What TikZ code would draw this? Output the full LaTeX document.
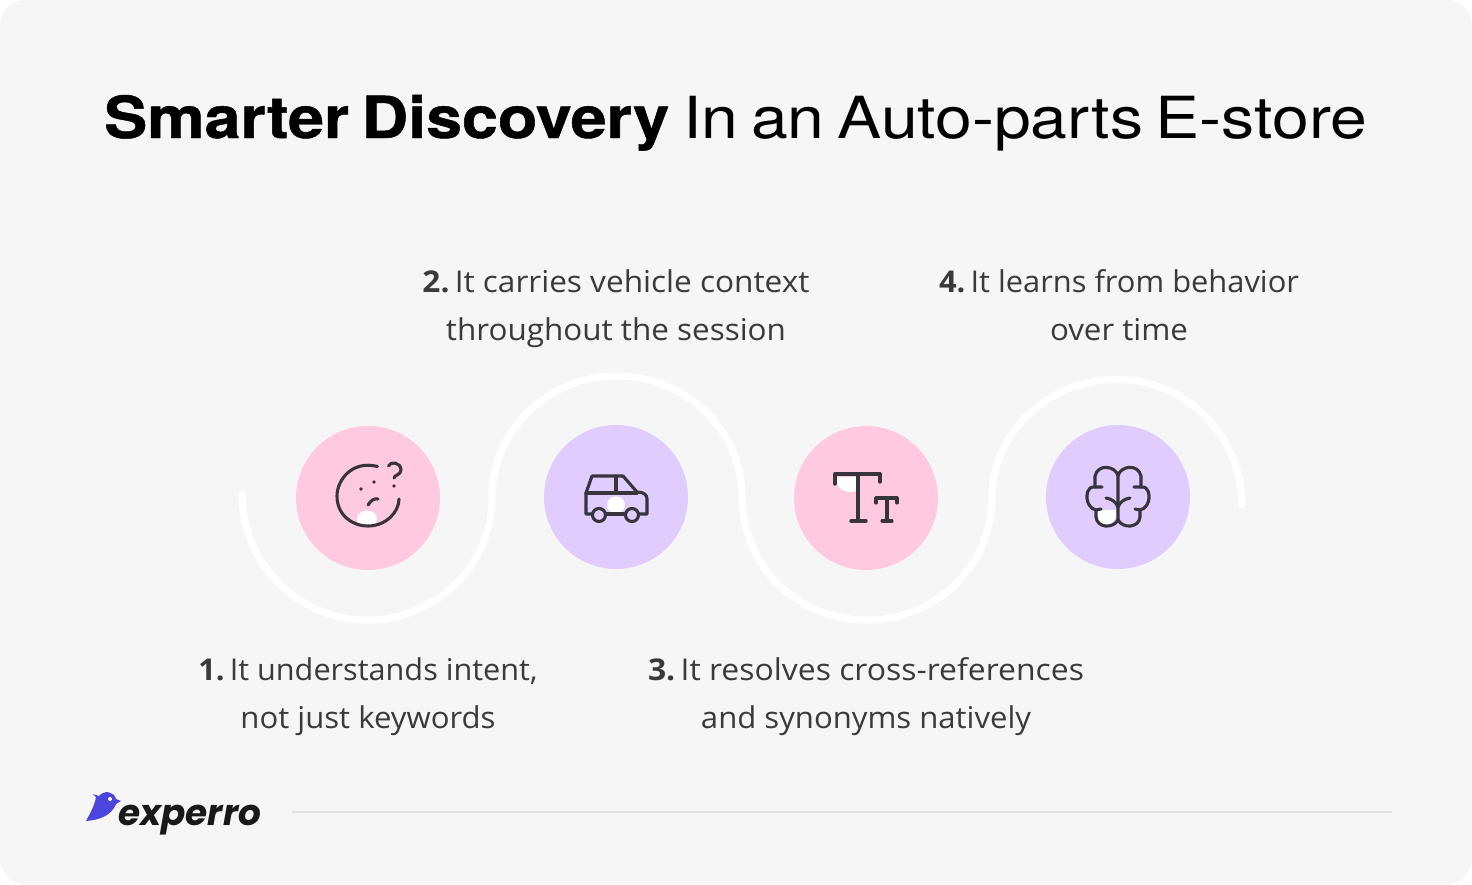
\documentclass[tikz,border=0pt]{standalone}
\usepackage{fontspec}
\setmainfont{TeX Gyre Heros}
\newfontfamily\heavyfont[WordSpace=0.7,BoldFeatures={FakeBold=0.8,WordSpace=0.7}]{TeX Gyre Heros}
\newfontfamily\bodyfont{Open Sans}
\newfontfamily\logofont{Poppins}
\definecolor{bgc}{HTML}{F6F6F6}
\definecolor{pinkc}{HTML}{FFC9E0}
\definecolor{lilac}{HTML}{E0CCFF}
\definecolor{inkc}{HTML}{37343B}
\definecolor{textc}{HTML}{3A3A3A}
\definecolor{birdc}{HTML}{4B45DE}
\newcommand{\fitw}[2]{\resizebox{#1pt}{\height}{#2}}
\newcommand{\numb}[1]{\textbf{#1}\hspace{5pt}}
\tikzset{
  x=1pt,y=-1pt,
  disc/.style={circle,minimum size=144pt,inner sep=0pt},
  wave/.style={draw=white,line width=7pt,line cap=round},
  ico/.style={draw=inkc,line width=3.1pt,line cap=round,line join=round},
  caption/.style={font=\bodyfont\fontsize{30}{48}\selectfont,text=textc,align=center,inner sep=0pt,anchor=center},
}
\begin{document}
\begin{tikzpicture}
\useasboundingbox (0,0) rectangle (1472,884);
\fill[white] (0,0) rectangle (1472,884);
\fill[bgc,rounded corners=26pt] (0,0) rectangle (1472,884);
\node[inner sep=0pt,text=black,anchor=base west] (title) at (104,138) {\heavyfont\fontsize{58}{60}\selectfont\fitw{565}{\textbf{Smarter Discovery}}\hspace{14pt}\fitw{684}{In an Auto-parts E-store}};
\coordinate (w0) at (242,494);
\coordinate (w1) at (492,497);
\coordinate (w2) at (742,497);
\coordinate (w3) at (992,497);
\coordinate (w4) at (1242,505);
\draw[wave] (w0) .. controls (242,563) and (298,620) .. (367,620) .. controls (436,620) and (492,566) .. (492,497)
  .. controls (492,430) and (548,376) .. (617,376) .. controls (686,376) and (742,430) .. (742,497)
  .. controls (742,566) and (798,620) .. (867,620) .. controls (936,620) and (992,566) .. (992,497)
  .. controls (992,433) and (1048,379.5) .. (1117,379.5) .. controls (1186,379.5) and (1242,436) .. (w4);
\node[disc,fill=pinkc] (d1) at (368,498) {};
\node[disc,fill=lilac] (d2) at (616,497) {};
\node[disc,fill=pinkc] (d3) at (866,498) {};
\node[disc,fill=lilac] (d4) at (1118,497) {};
% face
\fill[white] (367,519) ellipse[x radius=10,y radius=8.5];
\draw[ico] (377.5,466.5) .. controls (352,460) and (337,480) .. (337,496) .. controls (337,515) and (352,526) .. (368,526) .. controls (386,526) and (399,512) .. (399,499);
\draw[ico] (388.5,466) .. controls (390,461) and (401,462) .. (401,470) .. controls (401,475) and (394,475) .. (394,478);
\draw[ico] (368,505) .. controls (371,500) and (375,498) .. (378,499);
\fill[inkc] (361,489) circle(1.8) (374,482) circle(1.8) (394,486) circle(1.8);
% car
\fill[white] (616,505) ellipse[x radius=9,y radius=8.5];
\draw[ico] (592,514) -- (586,514) -- (586,493) -- (592,476) -- (623,476) -- (637,492) .. controls (644,492) and (647,495) .. (647,499) -- (647,514) -- (639,514);
\draw[ico] (586,493) -- (637,493) (616,476) -- (616,493) (606,514) -- (624,514);
\draw[ico] (599,515) circle(6.5) (632,515) circle(6.5);
% Tt
\fill[white] (836,477) -- (858,477) -- (858,490) .. controls (850,494) and (840,492) .. (836,482) -- cycle;
\draw[ico,line width=3.4pt] (835,484) -- (835,474) -- (880,474) -- (880,482) (858,474) -- (858,521) (851,521) -- (866,521);
\draw[ico] (876,503) -- (876,498) -- (897,498) -- (897,503) (887,498) -- (887,521) (882,521) -- (892,521);
% brain
\fill[white] (1096,510) -- (1116,510) -- (1116,517) .. controls (1112,527) and (1100,528) .. (1097,520) -- cycle;
\draw[ico] (1118,520) -- (1118,476) .. controls (1116,466) and (1098,463) .. (1095,476) -- (1095,487) .. controls (1086,486) and (1087,497) .. (1087,498) .. controls (1087,502) and (1090,509) .. (1096,510) -- (1096,517) .. controls (1097,528) and (1113,529) .. (1118,520);
\draw[ico] (1118,476) .. controls (1120,466) and (1138,463) .. (1141,476) -- (1141,487) .. controls (1150,486) and (1149,497) .. (1149,498) .. controls (1149,502) and (1146,509) .. (1140,510) -- (1140,517) .. controls (1139,528) and (1123,529) .. (1118,520);
\draw[ico] (1095,487) -- (1102,487) (1141,487) -- (1134,487) (1096,510) -- (1101,509) (1140,510) -- (1135,509);
\draw[ico] (1106,498) .. controls (1112,499) and (1116,502) .. (1118,507) .. controls (1120,502) and (1124,499) .. (1130,498);
\node[caption] (c2) at (616,309) {\fitw{387}{\numb{2.}It carries vehicle context}\\\fitw{340}{throughout the session}};
\node[caption] (c4) at (1119,305) {\fitw{360}{\numb{4.}It learns from behavior}\\\fitw{138}{over time}};
\node[caption] (c1) at (368,697) {\fitw{339}{\numb{1.}It understands intent,}\\\fitw{255}{not just keywords}};
\node[caption] (c3) at (866,697) {\fitw{436}{\numb{3.}It resolves cross-references}\\\fitw{330}{and synonyms natively}};
% logo
\fill[birdc] (86,821) .. controls (91,812) and (95,804) .. (96,797) -- (93,794) -- (99,796) .. controls (104,790) and (114,791) .. (116,799) -- (121,801) -- (116,804) .. controls (112,815) and (100,820) .. (86,821) -- cycle;
\fill[white] (110,799) circle(2);
\node[anchor=base west,inner sep=0pt,text=black!90] (logo) at (118,825) {\logofont\fontsize{36}{40}\selectfont\fitw{143}{\bfseries\itshape experro}};
\coordinate (r0) at (292,812);
\coordinate (r1) at (1392,812);
\draw[draw=black!12,line width=1.5pt] (r0) -- (r1);
\end{tikzpicture}
\end{document}
